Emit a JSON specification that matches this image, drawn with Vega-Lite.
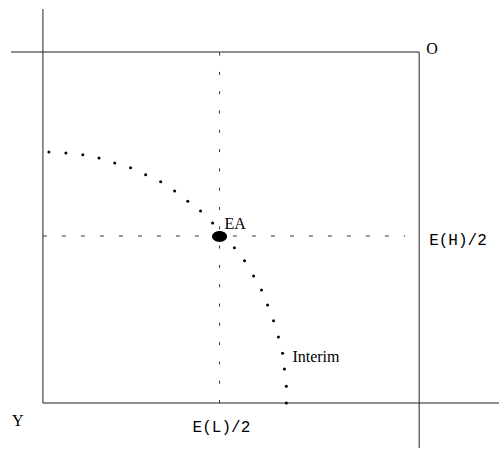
{
  "$schema": "https://vega.github.io/schema/vega-lite/v6.json",
  "width": 500,
  "height": 449,
  "padding": 0,
  "autosize": {"type": "fit", "contains": "padding"},
  "background": "white",
  "config": {"view": {"stroke": null}},
  "datasets": {
    "frame": [
      {"x": 0, "x2": 0, "y": 0, "y2": 1.1225},
      {"x": -0.0849, "x2": 1, "y": 1, "y2": 1},
      {"x": 1, "x2": 1, "y": -0.128, "y2": 1},
      {"x": 0, "x2": 1.2122, "y": 0, "y2": 0}
    ],
    "vline": [{"x": 0.4695, "x2": 0.4695, "y": 0, "y2": 1}],
    "hline": [{"x": 0, "x2": 0.963, "y": 0.4758, "y2": 0.4758}],
    "curve": [
      {"x": 0.016, "y": 0.715},
      {"x": 0.061, "y": 0.712},
      {"x": 0.106, "y": 0.707},
      {"x": 0.149, "y": 0.698},
      {"x": 0.191, "y": 0.684},
      {"x": 0.233, "y": 0.670},
      {"x": 0.273, "y": 0.650},
      {"x": 0.313, "y": 0.630},
      {"x": 0.350, "y": 0.604},
      {"x": 0.385, "y": 0.575},
      {"x": 0.419, "y": 0.547},
      {"x": 0.451, "y": 0.513},
      {"x": 0.509, "y": 0.442},
      {"x": 0.536, "y": 0.405},
      {"x": 0.560, "y": 0.362},
      {"x": 0.581, "y": 0.322},
      {"x": 0.597, "y": 0.279},
      {"x": 0.613, "y": 0.234},
      {"x": 0.626, "y": 0.188},
      {"x": 0.637, "y": 0.142},
      {"x": 0.642, "y": 0.097},
      {"x": 0.647, "y": 0.048},
      {"x": 0.647, "y": 0.000}
    ],
    "ea": [{"x": 0.4695, "y": 0.4744}],
    "serifLabels": [
      {"x": 1.0186, "y": 0.9943, "label": "O"},
      {"x": 0.4828, "y": 0.4957, "label": "EA"},
      {"x": 0.6631, "y": 0.1168, "label": "Interim"},
      {"x": -0.0822, "y": -0.0655, "label": "Y"}
    ],
    "monoLabels": [
      {"x": 1.0265, "y": 0.4501, "label": "E(H)/2"},
      {"x": 0.3979, "y": -0.0826, "label": "E(L)/2"}
    ]
  },
  "layer": [
    {
      "data": {"name": "frame"},
      "mark": {"type": "rule", "color": "#222", "strokeWidth": 1},
      "encoding": {
        "x": {"field": "x", "type": "quantitative", "scale": {"domain": [-0.11406, 1.2122], "nice": false, "zero": false}, "axis": null},
        "x2": {"field": "x2"},
        "y": {"field": "y", "type": "quantitative", "scale": {"domain": [-0.13105, 1.14815], "nice": false, "zero": false}, "axis": null},
        "y2": {"field": "y2"}
      }
    },
    {
      "data": {"name": "vline"},
      "mark": {"type": "rule", "color": "#333", "strokeWidth": 1, "strokeDash": [3, 16.3]},
      "encoding": {
        "x": {"field": "x", "type": "quantitative"},
        "x2": {"field": "x2"},
        "y": {"field": "y", "type": "quantitative"},
        "y2": {"field": "y2"}
      }
    },
    {
      "data": {"name": "hline"},
      "mark": {"type": "rule", "color": "#333", "strokeWidth": 1, "strokeDash": [4, 15]},
      "encoding": {
        "x": {"field": "x", "type": "quantitative"},
        "x2": {"field": "x2"},
        "y": {"field": "y", "type": "quantitative"},
        "y2": {"field": "y2"}
      }
    },
    {
      "data": {"name": "curve"},
      "mark": {"type": "point", "filled": true, "color": "black", "opacity": 1, "size": 9, "shape": "circle"},
      "encoding": {
        "x": {"field": "x", "type": "quantitative"},
        "y": {"field": "y", "type": "quantitative"}
      }
    },
    {
      "data": {"name": "ea"},
      "mark": {"type": "point", "filled": true, "color": "black", "opacity": 1, "size": 225, "shape": "M -1 0 A 1 0.73 0 1 0 1 0 A 1 0.73 0 1 0 -1 0 Z"},
      "encoding": {
        "x": {"field": "x", "type": "quantitative"},
        "y": {"field": "y", "type": "quantitative"}
      }
    },
    {
      "data": {"name": "serifLabels"},
      "mark": {"type": "text", "font": "Liberation Serif", "fontSize": 16, "align": "left", "baseline": "alphabetic", "color": "black"},
      "encoding": {
        "x": {"field": "x", "type": "quantitative"},
        "y": {"field": "y", "type": "quantitative"},
        "text": {"field": "label"}
      }
    },
    {
      "data": {"name": "monoLabels"},
      "mark": {"type": "text", "font": "Liberation Mono", "fontSize": 16, "align": "left", "baseline": "alphabetic", "color": "black"},
      "encoding": {
        "x": {"field": "x", "type": "quantitative"},
        "y": {"field": "y", "type": "quantitative"},
        "text": {"field": "label"}
      }
    }
  ]
}
